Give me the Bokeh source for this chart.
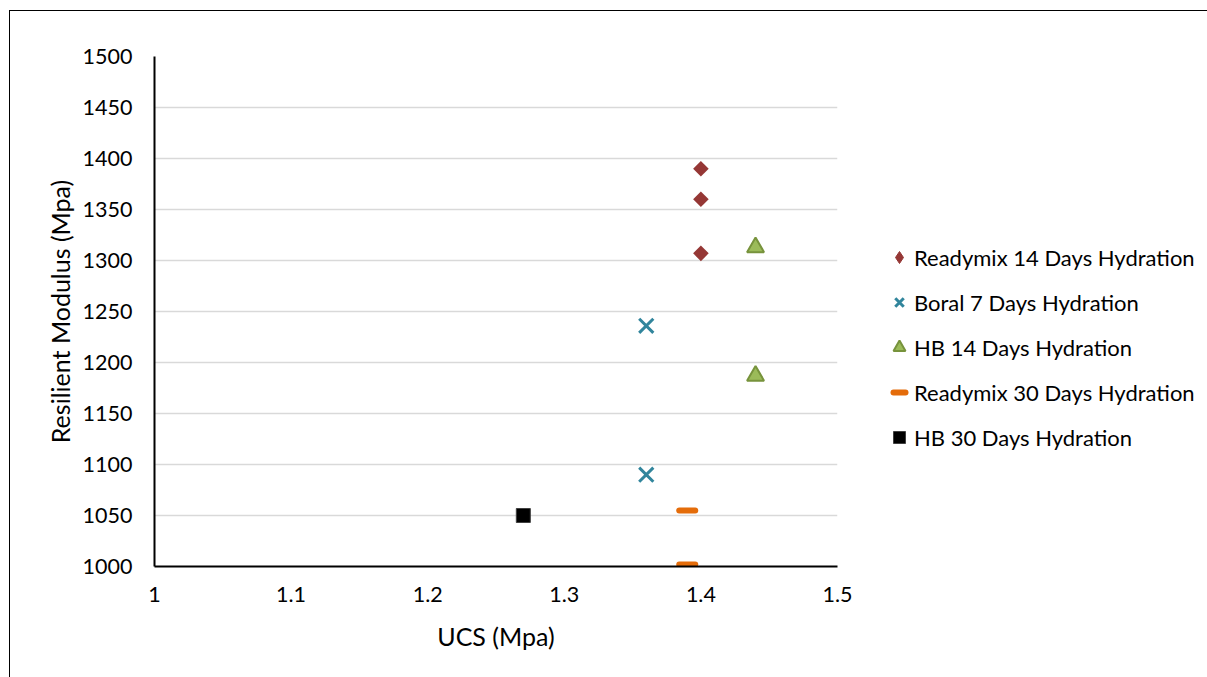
import math
from bokeh.plotting import figure
from bokeh.models import Legend, LegendItem, FixedTicker
from bokeh.embed import file_html
from bokeh.resources import INLINE

# Data
rm14_x = [1.40, 1.40, 1.40]
rm14_y = [1390, 1360, 1307]
boral7_x = [1.36, 1.36]
boral7_y = [1236, 1090]
hb14_x = [1.44, 1.44]
hb14_y = [1313, 1187]
rm30_x = [1.39, 1.39]
rm30_y = [1055, 1002]
hb30_x = [1.27]
hb30_y = [1050]

x_ticks = [1.0, 1.1, 1.2, 1.3, 1.4, 1.5]
x_tick_labels = ["1", "1.1", "1.2", "1.3", "1.4", "1.5"]
y_ticks = [1000, 1050, 1100, 1150, 1200, 1250, 1300, 1350, 1400, 1450, 1500]

FONT = "Lato"
TICK_FS = "21.5px"
TITLE_FS = "25px"
LEG_FS = "22px"

p = figure(frame_width=683, frame_height=510, x_range=(1.0, 1.5), y_range=(1000, 1500),
           output_backend="svg", toolbar_location=None,
           min_border_left=144, min_border_right=0,
           min_border_top=45, min_border_bottom=111)
p.margin = (10, 0, 0, 9)
p.styles = {"border-left": "1px solid black", "border-top": "1px solid black"}
p.outline_line_color = None
p.background_fill_color = "white"
p.border_fill_color = "white"

p.xaxis.ticker = FixedTicker(ticks=x_ticks)
p.xaxis.major_label_overrides = {t: l for t, l in zip(x_ticks, x_tick_labels)}
p.yaxis.ticker = FixedTicker(ticks=y_ticks)
for ax in (p.xaxis, p.yaxis):
    ax.major_tick_out = 0
    ax.major_tick_in = 0
    ax.minor_tick_out = 0
    ax.minor_tick_in = 0
    ax.axis_line_color = "black"
    ax.axis_line_width = 2
    ax.major_label_text_font = FONT
    ax.major_label_text_font_size = TICK_FS
    ax.major_label_text_color = "black"
    ax.axis_label_text_font = FONT
    ax.axis_label_text_font_size = TITLE_FS
    ax.axis_label_text_font_style = "normal"
    ax.axis_label_text_color = "black"
p.yaxis.major_label_standoff = 22
p.xaxis.major_label_standoff = 20
p.xaxis.axis_label = "UCS (Mpa)"
p.yaxis.axis_label = "Resilient Modulus (Mpa)"
p.xaxis.axis_label_standoff = 16
p.yaxis.axis_label_standoff = 5

p.xgrid.grid_line_color = None
p.ygrid.grid_line_color = "#d9d9d9"
p.ygrid.grid_line_width = 1.5

r1 = p.scatter(rm14_x, rm14_y, marker="square", size=11, angle=math.pi / 4,
               fill_color="#953735", line_color="#953735", line_width=0)
r2 = p.scatter(boral7_x, boral7_y, marker="x", size=20, line_color="#31859c",
               line_width=3)
r3 = p.scatter(hb14_x, hb14_y, marker="triangle", size=17, fill_color="#9bbb59",
               line_color="#77933c", line_width=2)
r4 = p.scatter(rm30_x, rm30_y, marker="dash", size=16, line_color="#e46c0a",
               line_width=6, line_cap="round")
r5 = p.scatter(hb30_x, hb30_y, marker="square", size=14, fill_color="black",
               line_color="#404040", line_width=1)

# hidden twin used only for the legend swatch (legend glyphs ignore angle)
r1_leg = p.scatter(rm14_x, rm14_y, marker="diamond", size=11, fill_color="#953735",
                   line_color="#953735", line_width=1, visible=False)

legend = Legend(items=[
    LegendItem(label="Readymix 14 Days Hydration", renderers=[r1_leg]),
    LegendItem(label="Boral 7 Days Hydration", renderers=[r2]),
    LegendItem(label="HB 14 Days Hydration", renderers=[r3]),
    LegendItem(label="Readymix 30 Days Hydration", renderers=[r4]),
    LegendItem(label="HB 30 Days Hydration", renderers=[r5]),
], location=(47, 112))
legend.label_text_font = FONT
legend.label_text_font_size = LEG_FS
legend.label_text_color = "black"
legend.glyph_width = 30
legend.glyph_height = 34
legend.label_height = 34
legend.spacing = 11
legend.label_standoff = 0
legend.padding = 0
legend.margin = 0
legend.border_line_color = None
legend.background_fill_alpha = 0
legend.inactive_fill_alpha = 0
p.add_layout(legend, "right")

open("out.html", "w").write(file_html(p, INLINE))
